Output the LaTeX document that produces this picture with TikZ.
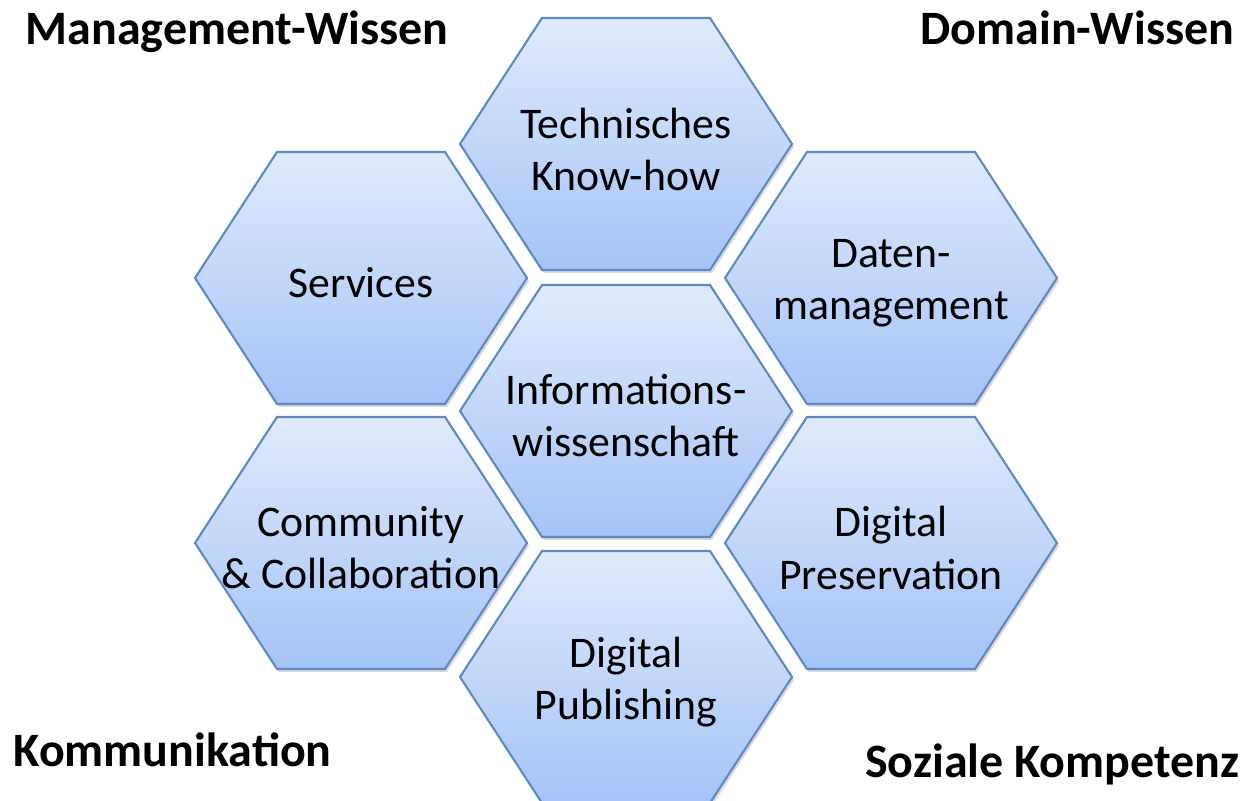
\documentclass[tikz,border=0pt]{standalone}
\usepackage{fontspec}
\setmainfont{Carlito}
\usetikzlibrary{shadows}

\definecolor{hextop}{RGB}{224,234,252}
\definecolor{hexbot}{RGB}{164,195,246}
\definecolor{hexline}{RGB}{96,136,196}

\tikzset{
  hexcell/.style={draw=hexline, line width=0.6pt, top color=hextop, bottom color=hexbot,
    drop shadow={shadow xshift=0.02cm, shadow yshift=-0.03cm, opacity=0.3}},
  hexlabel/.style={align=center, font=\fontsize{12.45}{14.8}\selectfont, yshift=-0.05cm},
  cornerlabel/.style={inner sep=0pt, font=\fontsize{13.65}{16}\selectfont\bfseries}
}

\begin{document}
\begin{tikzpicture}
\useasboundingbox (0,0) rectangle (12.49,8.01);
\foreach \name/\x/\y/\txt in {tech/6.26/6.57/{Technisches\\Know-how},
    serv/3.61/5.23/{Services},
    daten/8.91/5.23/{Daten-\\management},
    info/6.26/3.90/{Informations-\\wissenschaft},
    comm/3.61/2.58/{Community\\\& Collaboration},
    pres/8.91/2.58/{Digital\\Preservation},
    publ/6.26/1.24/{Digital\\Publishing}}
{
  \draw[hexcell] (\x-1.66,\y) -- ++(0.82,1.26) -- ++(1.68,0) -- ++(0.82,-1.26) -- ++(-0.82,-1.26) -- ++(-1.68,0) -- cycle;
  \node[hexlabel] (\name) at (\x,\y) {\txt};
}
\node[cornerlabel, anchor=base west] (mgmt) at (0.25,7.56) {Management-Wissen};
\node[cornerlabel, anchor=base east] (domain) at (12.35,7.56) {Domain-Wissen};
\node[cornerlabel, anchor=base west] (komm) at (0.13,0.34) {Kommunikation};
\node[cornerlabel, anchor=base east] (sozial) at (12.40,0.23) {Soziale Kompetenz};
\end{tikzpicture}
\end{document}
